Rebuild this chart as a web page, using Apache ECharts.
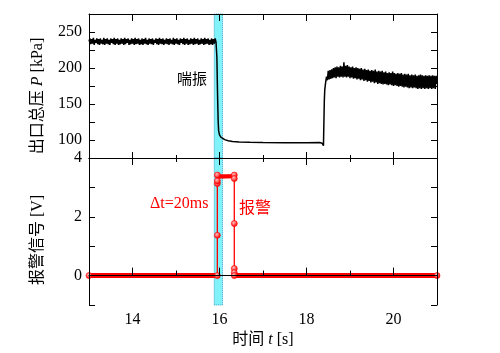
<!DOCTYPE html>
<html><head><meta charset="utf-8">
<script src="https://cdn.jsdelivr.net/npm/echarts@6/dist/echarts.min.js"></script>
<style>html,body{margin:0;padding:0;background:#fff}#c{width:500px;height:353px}</style>
</head><body><div id="c"></div>
<script>
// ---------------- data ----------------
const timeRange = [13, 21];
const xMajorTicks = [14, 16, 18, 20];
const xMinorTicks = [13, 15, 17, 19, 21];
const pressureRange = [75, 275];
const pressureLabels = [100, 150, 200, 250];
const signalRange = [-1, 4];
const signalLabels = [0, 2, 4];
const surgeWindow = [15.88, 16.07];

// outlet total pressure before surge (kPa)
const pressureBefore = [
[13.00,237],[13.02,241],[13.04,233],[13.06,240],[13.08,234],[13.10,242],[13.12,232],[13.14,239],[13.16,235],[13.18,241],
[13.20,233],[13.22,240],[13.24,232],[13.26,241],[13.28,234],[13.30,239],[13.32,233],[13.34,242],[13.36,232],[13.38,240],
[13.40,234],[13.42,241],[13.44,233],[13.46,239],[13.48,232],[13.50,241],[13.52,235],[13.54,240],[13.56,233],[13.58,242],
[13.60,232],[13.62,240],[13.64,234],[13.66,241],[13.68,232],[13.70,239],[13.72,233],[13.74,241],[13.76,234],[13.78,240],
[13.80,232],[13.82,242],[13.84,233],[13.86,240],[13.88,235],[13.90,241],[13.92,232],[13.94,239],[13.96,233],[13.98,241],
[14.00,234],[14.02,240],[14.04,232],[14.06,242],[14.08,233],[14.10,240],[14.12,234],[14.14,241],[14.16,232],[14.18,239],
[14.20,233],[14.22,241],[14.24,232],[14.26,240],[14.28,234],[14.30,242],[14.32,233],[14.34,239],[14.36,232],[14.38,241],
[14.40,234],[14.42,240],[14.44,233],[14.46,241],[14.48,232],[14.50,239],[14.52,235],[14.54,241],[14.56,233],[14.58,240],
[14.60,232],[14.62,242],[14.64,234],[14.66,240],[14.68,233],[14.70,241],[14.72,232],[14.74,239],[14.76,234],[14.78,241],
[14.80,233],[14.82,240],[14.84,232],[14.86,241],[14.88,234],[14.90,239],[14.92,233],[14.94,242],[14.96,232],[14.98,240],
[15.00,234],[15.02,241],[15.04,233],[15.06,239],[15.08,232],[15.10,241],[15.12,235],[15.14,240],[15.16,233],[15.18,242],
[15.20,232],[15.22,240],[15.24,234],[15.26,241],[15.28,232],[15.30,239],[15.32,233],[15.34,241],[15.36,234],[15.38,240],
[15.40,232],[15.42,242],[15.44,233],[15.46,240],[15.48,234],[15.50,241],[15.52,232],[15.54,239],[15.56,233],[15.58,241],
[15.60,234],[15.62,240],[15.64,232],[15.66,242],[15.68,233],[15.70,240],[15.72,234],[15.74,241],[15.76,232],[15.78,239],
[15.80,233],[15.82,241],[15.84,232],[15.86,240],[15.88,234],[15.90,241],[15.92,236]
];
// collapse into surge and the low plateau
const pressureDrop = [
[15.93,234],[15.94,215],[15.95,180],[15.96,150],[15.97,125],[15.98,113],[16.00,107],[16.03,104],[16.07,102],[16.12,100.5],
[16.20,99],[16.30,98],[16.45,97.3],[16.70,96.8],[17.00,96.5],[17.50,96.3],[18.00,96.3],[18.30,96.4],[18.36,95.5],[18.38,93],[18.39,92]
];
// recovery after the surge
const pressureRecovery = [
[18.40,125],[18.41,155],[18.42,170],[18.44,180],[18.46,188],
[18.48,183],[18.50,196],[18.52,184],[18.54,197],[18.56,185],[18.58,198],[18.60,186],[18.62,200],[18.64,187],[18.66,201],
[18.68,186],[18.70,202],[18.72,188],[18.74,201],[18.76,187],[18.78,203],[18.80,188],[18.82,202],[18.84,187],[18.86,208],
[18.88,188],[18.90,203],[18.92,187],[18.94,204],[18.96,188],[18.98,202],[19.00,186],[19.02,201],[19.04,187],[19.06,202],
[19.08,185],[19.10,200],[19.12,186],[19.14,201],[19.16,184],[19.18,200],[19.20,185],[19.22,199],[19.24,183],[19.26,200],
[19.28,184],[19.30,198],[19.32,182],[19.34,199],[19.36,183],[19.38,197],[19.40,181],[19.42,198],[19.44,182],[19.46,196],
[19.48,180],[19.50,197],[19.52,181],[19.54,196],[19.56,179],[19.58,198],[19.60,180],[19.62,195],[19.64,178],[19.66,196],
[19.68,179],[19.70,195],[19.72,178],[19.74,196],[19.76,177],[19.78,194],[19.80,178],[19.82,195],[19.84,177],[19.86,193],
[19.88,176],[19.90,194],[19.92,177],[19.94,193],[19.96,176],[19.98,195],[20.00,175],[20.02,193],[20.04,176],[20.06,192],
[20.08,175],[20.10,193],[20.12,174],[20.14,192],[20.16,175],[20.18,193],[20.20,174],[20.22,191],[20.24,173],[20.26,192],
[20.28,174],[20.30,191],[20.32,173],[20.34,192],[20.36,172],[20.38,190],[20.40,173],[20.42,191],[20.44,172],[20.46,190],
[20.48,173],[20.50,191],[20.52,172],[20.54,189],[20.56,171],[20.58,190],[20.60,172],[20.62,191],[20.64,171],[20.66,190],
[20.68,172],[20.70,189],[20.72,171],[20.74,190],[20.76,172],[20.78,189],[20.80,171],[20.82,190],[20.84,172],[20.86,189],
[20.88,171],[20.90,190],[20.92,172],[20.94,189],[20.96,171],[20.98,189],[21.00,178]
];

// alarm signal (V)
const alarmSamples = [
[13,0],[15.95,0],[15.95,1.37],[15.95,3.13],[15.95,3.22],[15.95,3.42],
[16.34,3.42],[16.34,3.3],[16.34,1.77],[16.34,0.24],[16.34,0.1],[16.34,0],[21,0]
];
const alarmBaseBefore = [[13,0],[15.95,0]];
const alarmPlateau = [[15.95,3.36],[16.34,3.38]];
const alarmBaseAfter = [[16.34,0],[21,0]];

// ---------------- chart ----------------
const pressure = pressureBefore.concat(pressureDrop, pressureRecovery);
const SERIF = '"Liberation Serif","Noto Sans CJK SC",serif';
const RED = '#ff0000';
const LINE = {show: true, lineStyle: {color: '#000', width: 1}};

function xAx(grid, pos, ticks, len, showLine, labels) {
  const o = {
    type: 'value', gridIndex: grid, position: pos, min: timeRange[0], max: timeRange[1], interval: 1, z: 5,
    axisLine: showLine ? LINE : {show: false},
    axisTick: {show: true, inside: true, length: len, customValues: ticks, lineStyle: {color: '#000', width: 1}},
    axisLabel: labels ? {show: true, customValues: xMajorTicks, margin: 7, color: '#000', fontSize: 16, fontFamily: SERIF} : {show: false},
    splitLine: {show: false}
  };
  if (labels) {
    o.name = '时间 {i|t} [s]'; o.nameLocation = 'middle'; o.nameGap = 27;
    o.nameTextStyle = {color: '#000', fontSize: 16, fontFamily: SERIF,
      rich: {i: {fontStyle: 'italic', fontSize: 16, fontFamily: SERIF, color: '#000'}}};
  }
  return o;
}
function yAx(grid, pos, rng, step, labels, name, pad) {
  const o = {
    type: 'value', gridIndex: grid, position: pos, min: rng[0], max: rng[1], interval: step, z: 5,
    axisLine: LINE,
    axisTick: {show: true, inside: true, length: 6, lineStyle: {color: '#000', width: 1}},
    axisLabel: labels ? {show: true, margin: 7, color: '#000', fontSize: 16, fontFamily: SERIF,
      showMinLabel: true, showMaxLabel: true,
      formatter: v => labels.indexOf(v) >= 0 ? String(v) : ''} : {show: false},
    splitLine: {show: false}
  };
  if (name) {
    o.name = name; o.nameLocation = 'middle'; o.nameGap = 43;
    o.nameTextStyle = {color: '#000', fontSize: 16, fontFamily: SERIF, padding: pad,
      rich: {i: {fontStyle: 'italic', fontSize: 16, fontFamily: SERIF, color: '#000'}}};
  }
  return o;
}

const band = {
  silent: true,
  itemStyle: {color: '#7ff2fa', borderColor: '#3a9fc8', borderWidth: 1, borderType: 'dotted'},
  data: [[{xAxis: surgeWindow[0]}, {xAxis: surgeWindow[1]}]]
};
const ballColor = {type: 'radial', x: 0.4, y: 0.35, r: 0.6,
  colorStops: [{offset: 0, color: '#ffc0c0'}, {offset: 1, color: RED}]};

const chart = echarts.init(document.getElementById('c'), null, {renderer: 'canvas'});
chart.setOption({
  animation: false,
  backgroundColor: '#fff',
  grid: [
    {left: 89, top: 14, width: 348, height: 144},
    {left: 89, top: 158, width: 348, height: 147}
  ],
  xAxis: [
    xAx(0, 'bottom', xMajorTicks, 6, true, false),
    xAx(0, 'bottom', xMinorTicks, 3, false, false),
    xAx(0, 'top', xMajorTicks, 7, true, false),
    xAx(0, 'top', xMinorTicks, 6, false, false),
    xAx(1, 'bottom', xMajorTicks, 8, true, true),
    xAx(1, 'bottom', xMinorTicks, 5, false, false),
    xAx(1, 'top', xMajorTicks, 7, true, false),
    xAx(1, 'top', xMinorTicks, 4, false, false)
  ],
  yAxis: [
    yAx(0, 'left', pressureRange, 25, pressureLabels, '出口总压 {i|P} [kPa]', [0, 20, 0, 0]),
    yAx(0, 'right', pressureRange, 25, null),
    yAx(1, 'left', signalRange, 1, signalLabels, '报警信号 [V]', [0, 17, 0, 0]),
    yAx(1, 'right', signalRange, 1, null)
  ],
  graphic: [
    {type: 'text', z: 100, style: {text: '喘振', x: 192, y: 78, align: 'center', verticalAlign: 'middle',
      fontSize: 15, fontFamily: '"Noto Sans CJK SC"', fill: '#000'}},
    {type: 'text', z: 100, style: {text: 'Δt=20ms', x: 150, y: 204, align: 'left', verticalAlign: 'middle',
      fontSize: 16, fontFamily: SERIF, fill: RED}},
    {type: 'text', z: 100, style: {text: '报警', x: 239, y: 207, align: 'left', verticalAlign: 'middle',
      fontSize: 16, fontFamily: '"Noto Sans CJK SC"', fill: RED}}
  ],
  series: [
    {type: 'line', xAxisIndex: 0, yAxisIndex: 0, data: pressure, showSymbol: false, symbol: 'none',
      lineStyle: {color: '#000', width: 1.5}, z: 3, markArea: band},
    {type: 'line', xAxisIndex: 4, yAxisIndex: 2, data: alarmBaseBefore, symbol: 'none',
      lineStyle: {color: RED, width: 5}, z: 3, markArea: band},
    {type: 'line', xAxisIndex: 4, yAxisIndex: 2, data: alarmBaseAfter, symbol: 'none',
      lineStyle: {color: RED, width: 5}, z: 3},
    {type: 'line', xAxisIndex: 4, yAxisIndex: 2, data: alarmPlateau, symbol: 'none',
      lineStyle: {color: RED, width: 4}, z: 3},
    {type: 'line', xAxisIndex: 4, yAxisIndex: 2, data: alarmSamples, symbol: 'circle', symbolSize: 6, showAllSymbol: true,
      lineStyle: {color: RED, width: 1.3}, itemStyle: {color: ballColor, borderColor: RED, borderWidth: 0.6}, z: 4}
  ]
});
</script></body></html>
